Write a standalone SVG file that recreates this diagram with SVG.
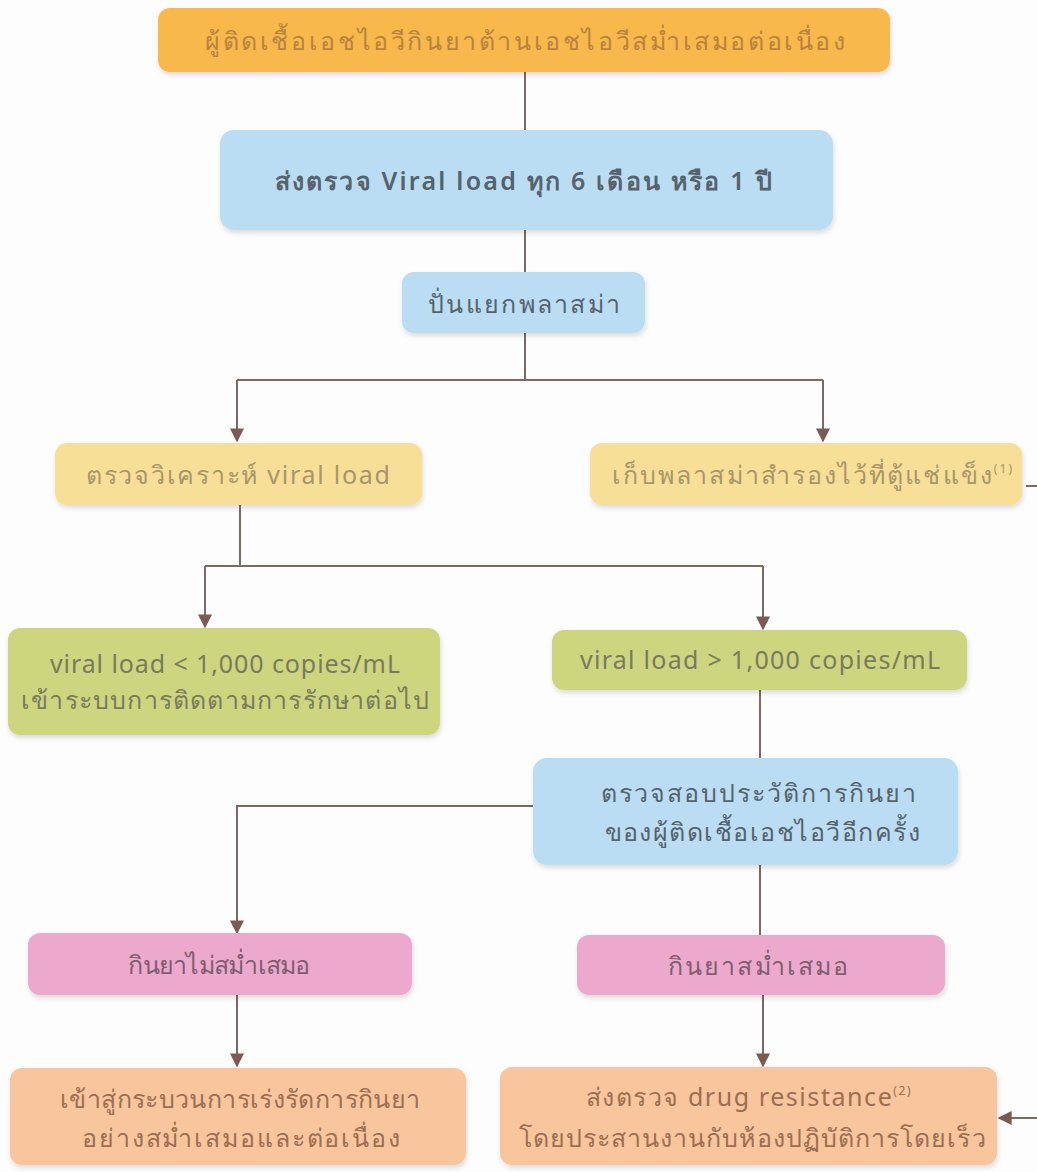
<svg xmlns="http://www.w3.org/2000/svg" width="1037" height="1172" viewBox="0 0 1037 1172">
<defs>
<marker id="ah" viewBox="0 0 10 10" refX="9" refY="5" markerWidth="14" markerHeight="14" markerUnits="userSpaceOnUse" orient="auto">
<path d="M0,0 L10,5 L0,10 z" fill="#7c5a52"/>
</marker>
<filter id="sh" x="-5%" y="-10%" width="110%" height="130%">
<feDropShadow dx="1" dy="3" stdDeviation="2.5" flood-color="#000" flood-opacity="0.13"/>
</filter>
<style>
.b{filter:url(#sh)}
.t{font-family:"Noto Sans","DejaVu Sans","Liberation Sans",sans-serif;font-size:25px;text-anchor:middle}
.c{fill:none;stroke:#7c6a62;stroke-width:2}
.org{fill:#F8B84C}.blu{fill:#BADDF3}.yel{fill:#F8DF97}.grn{fill:#CDD67F}.pnk{fill:#ECA9CD}.sal{fill:#F8C59C}
.to{fill:#B9833F}.tb{fill:#56626C}.ty{fill:#A8966A}.tg{fill:#7A7A5E}.tp{fill:#7E5E6E}.ts{fill:#9C6E52}
</style>
</defs>
<rect width="1037" height="1172" fill="#FDFDFE"/>
<g id="connectors">
<path class="c" d="M525,72 V130"/>
<path class="c" d="M525,230 V272"/>
<path class="c" d="M525,333 V380"/>
<path class="c" d="M237,380 H823"/>
<path class="c" d="M237,380 V441" marker-end="url(#ah)"/>
<path class="c" d="M823,380 V441" marker-end="url(#ah)"/>
<path class="c" d="M240,505 V566"/>
<path class="c" d="M205,566 H763"/>
<path class="c" d="M205,566 V627" marker-end="url(#ah)"/>
<path class="c" d="M763,566 V629" marker-end="url(#ah)"/>
<path class="c" d="M760,690 V758"/>
<path class="c" d="M533,806 H237 V933" marker-end="url(#ah)"/>
<path class="c" d="M760,865 V935"/>
<path class="c" d="M237,995 V1066" marker-end="url(#ah)"/>
<path class="c" d="M763,995 V1066" marker-end="url(#ah)"/>
<path class="c" d="M1026,486 H1037"/>
<path class="c" d="M1037,1118 H999" marker-end="url(#ah)"/>
</g>
<g id="n1"><rect class="b org" x="158" y="8" width="732" height="64" rx="12"/><text class="t to" x="525" y="50" textLength="640" lengthAdjust="spacing">ผู้ติดเชื้อเอชไอวีกินยาต้านเอชไอวีสม่ำเสมอต่อเนื่อง</text></g>
<g id="n2"><rect class="b blu" x="220" y="130" width="613" height="100" rx="14"/><text class="t tb" x="523" y="190" font-weight="600" textLength="497" lengthAdjust="spacing">ส่งตรวจ Viral load ทุก 6 เดือน หรือ 1 ปี</text></g>
<g id="n3"><rect class="b blu" x="402" y="272" width="243" height="61" rx="12"/><text class="t tb" x="524" y="313" textLength="192" lengthAdjust="spacing">ปั่นแยกพลาสม่า</text></g>
<g id="n4"><rect class="b yel" x="55" y="443" width="367" height="62" rx="12"/><text class="t ty" x="238" y="484" textLength="304" lengthAdjust="spacing">ตรวจวิเคราะห์  viral load</text></g>
<g id="n5"><rect class="b yel" x="590" y="443" width="432" height="62" rx="12"/><text class="t ty" x="812" y="484" textLength="400" lengthAdjust="spacing">เก็บพลาสม่าสำรองไว้ที่ตู้แช่แข็ง<tspan font-size="12" dy="-11">(1)</tspan></text></g>
<g id="n6"><rect class="b grn" x="8" y="628" width="432" height="107" rx="12"/><text class="t tg" x="225" y="673" textLength="350" lengthAdjust="spacing">viral load &lt; 1,000 copies/mL</text><text class="t tg" x="225" y="709" textLength="408" lengthAdjust="spacing">เข้าระบบการติดตามการรักษาต่อไป</text></g>
<g id="n7"><rect class="b grn" x="552" y="630" width="415" height="60" rx="12"/><text class="t tg" x="760" y="669" textLength="360" lengthAdjust="spacing">viral load &gt; 1,000 copies/mL</text></g>
<g id="n8"><rect class="b blu" x="533" y="758" width="425" height="107" rx="14"/><text class="t tb" x="758" y="802" textLength="315" lengthAdjust="spacing">ตรวจสอบประวัติการกินยา</text><text class="t tb" x="762" y="841" textLength="315" lengthAdjust="spacing">ของผู้ติดเชื้อเอชไอวีอีกครั้ง</text></g>
<g id="n9"><rect class="b pnk" x="28" y="933" width="384" height="62" rx="12"/><text class="t tp" x="219" y="974" textLength="182" lengthAdjust="spacing">กินยาไม่สม่ำเสมอ</text></g>
<g id="n10"><rect class="b pnk" x="577" y="935" width="368" height="60" rx="12"/><text class="t tp" x="758" y="975" textLength="180" lengthAdjust="spacing">กินยาสม่ำเสมอ</text></g>
<g id="n11"><rect class="b sal" x="10" y="1068" width="456" height="97" rx="12"/><text class="t ts" x="240" y="1108" textLength="360" lengthAdjust="spacing">เข้าสู่กระบวนการเร่งรัดการกินยา</text><text class="t ts" x="241" y="1147" textLength="318" lengthAdjust="spacing">อย่างสม่ำเสมอและต่อเนื่อง</text></g>
<g id="n12"><rect class="b sal" x="500" y="1067" width="497" height="98" rx="12"/><text class="t ts" x="748" y="1106" textLength="325" lengthAdjust="spacing">ส่งตรวจ drug resistance<tspan font-size="12" dy="-11">(2)</tspan></text><text class="t ts" x="752" y="1147" textLength="467" lengthAdjust="spacing">โดยประสานงานกับห้องปฏิบัติการโดยเร็ว</text></g>
</svg>
